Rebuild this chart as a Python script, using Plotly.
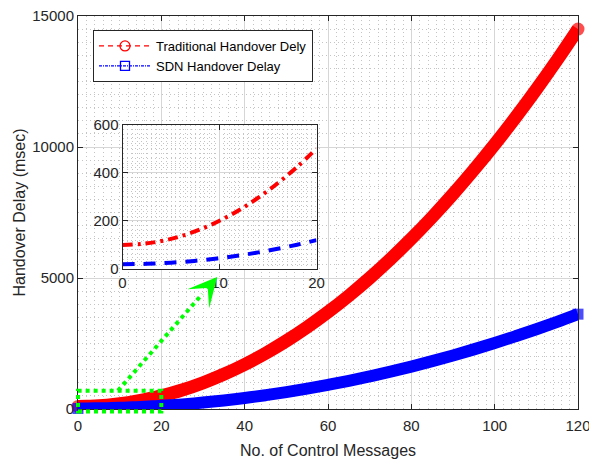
import plotly.graph_objects as go

# ---- data ----
messages = [0, 2, 4, 6, 8, 10, 12, 14, 16, 18, 20, 25, 30, 35, 40, 45, 50, 55, 60,
            65, 70, 75, 80, 85, 90, 95, 100, 105, 110, 115, 120]
traditional_delay = [100, 104, 116, 136, 164, 200, 244, 296, 356, 424, 500, 725, 1000,
                     1325, 1700, 2125, 2600, 3125, 3700, 4325, 5000, 5725, 6500, 7325,
                     8200, 9125, 10100, 11125, 12200, 13325, 14500]
sdn_delay = [20, 21, 24, 29, 36, 45, 56, 69, 84, 101, 120, 176, 245, 326, 420, 526, 645,
             776, 920, 1076, 1245, 1426, 1620, 1826, 2045, 2276, 2520, 2776, 3045, 3326, 3620]

main_xticks = [0, 20, 40, 60, 80, 100, 120]
main_yticks = [0, 5000, 10000, 15000]
inset_xticks = [0, 10, 20]
inset_yticks = [0, 200, 400, 600]

legend_names = ["Traditional Handover Dely", "SDN Handover Delay"]

# zoom box and arrow (data coordinates of main axes)
zoom_box = dict(x0=0, x1=20, y0=-100, y1=700)
arrow_start = (9.6, 700)
arrow_tip = (33.4, 5040)

RED = "#ff0000"
BLUE = "#0000ff"
GREEN = "#00ff00"
TXT = "#262626"
FONT = "Liberation Sans, Arial, Helvetica, sans-serif"

X_MAX, Y_MAX = 120, 15000
inset_n = 11  # points up to x=20

n = len(messages)
end_sizes_red = [13] + [0] * (n - 2) + [13]
end_sizes_blue = [11] + [0] * (n - 2) + [11]

fig = go.Figure()

# main curves (thick)
fig.add_trace(go.Scatter(x=messages, y=traditional_delay, mode="lines+markers",
                         line=dict(color=RED, width=13, shape="spline"),
                         marker=dict(symbol="circle", size=end_sizes_red, color=RED,
                                     line=dict(width=0)),
                         cliponaxis=False, showlegend=False, xaxis="x", yaxis="y"))
fig.add_trace(go.Scatter(x=messages, y=sdn_delay, mode="lines+markers",
                         line=dict(color=BLUE, width=12, shape="spline"),
                         marker=dict(symbol="square", size=end_sizes_blue, color=BLUE,
                                     line=dict(width=0)),
                         cliponaxis=False, showlegend=False, xaxis="x", yaxis="y"))

# legend-only entries
fig.add_trace(go.Scatter(x=[None], y=[None], mode="lines+markers", name=legend_names[0],
                         line=dict(color=RED, width=1.2, dash="5px,4px"),
                         marker=dict(symbol="circle-open", size=10, color=RED, line=dict(width=1.3)),
                         xaxis="x", yaxis="y"))
fig.add_trace(go.Scatter(x=[None], y=[None], mode="lines+markers", name=legend_names[1],
                         line=dict(color=BLUE, width=1.2, dash="3px,1px,1px,1px"),
                         marker=dict(symbol="square-open", size=9, color=BLUE, line=dict(width=1.3)),
                         xaxis="x", yaxis="y"))

# inset curves
fig.add_trace(go.Scatter(x=messages[:inset_n], y=traditional_delay[:inset_n], mode="lines",
                         line=dict(color=RED, width=4, dash="10px,5px,3px,5px", shape="spline"),
                         showlegend=False, xaxis="x2", yaxis="y2"))
fig.add_trace(go.Scatter(x=messages[:inset_n], y=sdn_delay[:inset_n], mode="lines",
                         line=dict(color=BLUE, width=4, dash="12px,9px", shape="spline"),
                         showlegend=False, xaxis="x2", yaxis="y2"))

# geometry (pixels)
W, H = 589, 459
L, R, T, B = 78, 11, 16, 50
pw, ph = W - L - R, H - T - B
ix0, ix1, iy0, iy1 = 122.5, 316.5, 124.5, 269.0  # inset frame px

def fx(px):
    return (px - L) / pw

def fy(py):
    return (H - B - py) / ph

grid_major = "#d6d6d6"
grid_minor = "#c4c4c4"
minor_dash = "1px,3px"

axis_common = dict(showline=True, linecolor=TXT, linewidth=1, mirror="allticks",
                   ticks="inside", ticklen=5, tickcolor=TXT, zeroline=False,
                   showgrid=True, gridcolor=grid_major, gridwidth=1,
                   tickformat="d", ticklabeloverflow="allow",
                   tickfont=dict(family=FONT, size=15, color=TXT))

def minor(dt):
    return dict(dtick=dt, showgrid=True, gridcolor=grid_minor, griddash=minor_dash,
                gridwidth=1, ticks="")

fig.update_layout(
    width=W, height=H,
    margin=dict(l=L, r=R, t=T, b=B, autoexpand=False),
    paper_bgcolor="white", plot_bgcolor="white",
    showlegend=True,
    legend=dict(x=fx(93), y=fy(30), xanchor="left", yanchor="top",
                bgcolor="white", bordercolor=TXT, borderwidth=1,
                font=dict(family=FONT, size=13, color="black"),
                itemwidth=52, tracegroupgap=0, traceorder="normal"),
    xaxis=dict(domain=[0, 1], range=[0, X_MAX], tickvals=main_xticks,
               ticklabelstandoff=3,
               title=dict(text="No. of Control Messages", standoff=12,
                          font=dict(family=FONT, size=16, color=TXT)),
               minor=minor(2), anchor="y", **axis_common),
    yaxis=dict(domain=[0, 1], range=[0, Y_MAX], tickvals=main_yticks,
               title=dict(text="Handover Delay (msec)", standoff=2,
                          font=dict(family=FONT, size=16, color=TXT)),
               minor=minor(500), anchor="x", **axis_common),
    xaxis2=dict(domain=[fx(ix0), fx(ix1)], range=[0, 20], tickvals=inset_xticks,
                minor=minor(0.5), anchor="y2", **axis_common),
    yaxis2=dict(domain=[fy(iy1), fy(iy0)], range=[0, 600], tickvals=inset_yticks,
                minor=minor(20), anchor="x2", **axis_common),
)

# green zoom box (domain refs so it is not clipped by the axes)
fig.add_shape(type="rect", xref="x domain", yref="y domain",
              x0=zoom_box["x0"] / X_MAX, x1=zoom_box["x1"] / X_MAX,
              y0=zoom_box["y0"] / Y_MAX, y1=zoom_box["y1"] / Y_MAX,
              line=dict(color=GREEN, width=4, dash="dot"), layer="above")

# dotted arrow shaft
sx, sy = arrow_start
tx, ty = arrow_tip
fig.add_shape(type="line", xref="x domain", yref="y domain",
              x0=sx / X_MAX, y0=sy / Y_MAX,
              x1=(sx + 0.85 * (tx - sx)) / X_MAX, y1=(sy + 0.85 * (ty - sy)) / Y_MAX,
              line=dict(color=GREEN, width=4, dash="dot"), layer="above")

# arrow head
fig.add_annotation(x=tx, y=ty, xref="x", yref="y", ax=-6.6, ay=7.6,
                   showarrow=True, arrowhead=3, arrowsize=1.6, arrowwidth=3,
                   arrowcolor=GREEN, text="", standoff=0)

fig.write_html("out.html")
